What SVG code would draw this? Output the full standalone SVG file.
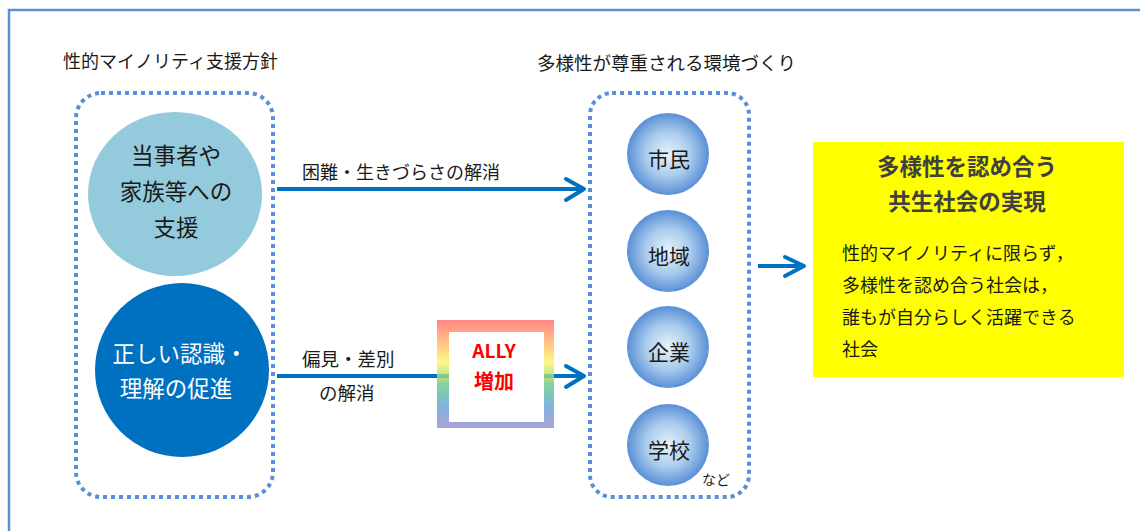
<svg xmlns="http://www.w3.org/2000/svg" width="1140" height="531" viewBox="0 0 1140 531">
<defs>
<style>
.t{font-family:"Noto Sans CJK JP","Noto Sans CJK SC",sans-serif;fill:#1a1a1a}
.dot{fill:none;stroke:#5a8fd6;stroke-width:4;stroke-dasharray:4 4}
.conn{stroke:#0070c0;stroke-width:4;fill:none}
.head{stroke:#0070c0;stroke-width:4;fill:none;stroke-linecap:round;stroke-linejoin:round}
.sm{fill:url(#bg)}
</style>
<radialGradient id="bg" cx="0.5" cy="0.5" r="0.5">
<stop offset="0" stop-color="#e6f4f9"/>
<stop offset="0.55" stop-color="#a9cbec"/>
<stop offset="1" stop-color="#5a8fd6"/>
</radialGradient>
<linearGradient id="rb" x1="0" y1="0" x2="0" y2="1">
<stop offset="0" stop-color="#ff6b6b"/>
<stop offset="0.2" stop-color="#ffb36b"/>
<stop offset="0.4" stop-color="#fbf86b"/>
<stop offset="0.6" stop-color="#66c985"/>
<stop offset="0.8" stop-color="#62a2d9"/>
<stop offset="1" stop-color="#9b8dcf"/>
</linearGradient>
</defs>
<rect width="1140" height="531" fill="#fff"/>
<rect x="9" y="10" width="1200" height="600" fill="none" stroke="#5a8fd6" stroke-width="2.5"/>

<text class="t" x="63" y="68" font-size="18">性的マイノリティ支援方針</text>
<text class="t" x="537" y="70" font-size="18.5">多様性が尊重される環境づくり</text>

<g id="policy-box">
<rect class="dot" x="76" y="93" width="197" height="404" rx="25"/>
</g>
<g id="support">
<ellipse cx="175" cy="194" rx="87" ry="82" fill="#93cbdc"/>
<text class="t" font-size="22.5" text-anchor="middle"><tspan x="176" y="164">当事者や</tspan><tspan x="176" y="200">家族等への</tspan><tspan x="176" y="236">支援</tspan></text>
</g>
<g id="awareness">
<circle cx="182" cy="370" r="87" fill="#0070c0"/>
<text class="t" font-size="22.5" text-anchor="middle" style="fill:#fff"><tspan x="180" y="362">正しい認識・</tspan><tspan x="176" y="397">理解の促進</tspan></text>
</g>

<g id="env-box">
<rect class="dot" x="590" y="93" width="159" height="404" rx="22"/>
</g>
<g id="citizens"><circle class="sm" cx="668" cy="154" r="41"/><text class="t" x="669" y="167" font-size="21" text-anchor="middle">市民</text></g>
<g id="region"><circle class="sm" cx="668" cy="251" r="41"/><text class="t" x="669" y="264" font-size="21" text-anchor="middle">地域</text></g>
<g id="companies"><circle class="sm" cx="668" cy="347" r="41"/><text class="t" x="669" y="360" font-size="21" text-anchor="middle">企業</text></g>
<g id="schools"><circle class="sm" cx="668" cy="445" r="41"/><text class="t" x="669" y="458" font-size="21" text-anchor="middle">学校</text></g>
<text class="t" x="702" y="485" font-size="14">など</text>

<g id="connectors">
<line class="conn" x1="277" y1="189" x2="583" y2="189"/>
<polyline class="head" points="566,179 584,189 566,200"/>
<line class="conn" x1="277" y1="376" x2="449" y2="376"/>
<line class="conn" x1="544" y1="376" x2="583" y2="376"/>
<polyline class="head" points="566,366 584,376 566,387"/>
<line class="conn" x1="758" y1="266" x2="803" y2="266"/>
<polyline class="head" points="785,257 804,266 785,276"/>
</g>
<text class="t" x="302" y="179" font-size="18">困難・生きづらさの解消</text>
<text class="t" x="302" y="366" font-size="18.5">偏見・差別</text>
<text class="t" x="319" y="400" font-size="18.5">の解消</text>

<g id="ally">
<path d="M437,320H554V428H437Z M449,332V422H544V332Z" fill="url(#rb)" fill-rule="evenodd" opacity="0.82"/>
<rect x="449" y="332" width="95" height="90" fill="#fff"/>
<text x="494" y="358" font-size="19" font-weight="bold" text-anchor="middle" fill="#ff0000" font-family="'Noto Sans CJK JP',sans-serif">ALLY</text>
<text x="494" y="389" font-size="20" font-weight="bold" text-anchor="middle" fill="#ff0000" font-family="'Noto Sans CJK JP',sans-serif">増加</text>
</g>

<g id="goal">
<rect x="813" y="142" width="311" height="235" fill="#ffff00"/>
<text class="t" font-size="22.5" font-weight="bold" text-anchor="middle" style="fill:#404040"><tspan x="967" y="175">多様性を認め合う</tspan><tspan x="967" y="210">共生社会の実現</tspan></text>
<text class="t" font-size="18"><tspan x="842" y="260">性的マイノリティに限らず，</tspan><tspan x="842" y="292">多様性を認め合う社会は，</tspan><tspan x="842" y="324">誰もが自分らしく活躍できる</tspan><tspan x="842" y="356">社会</tspan></text>
</g>
</svg>
